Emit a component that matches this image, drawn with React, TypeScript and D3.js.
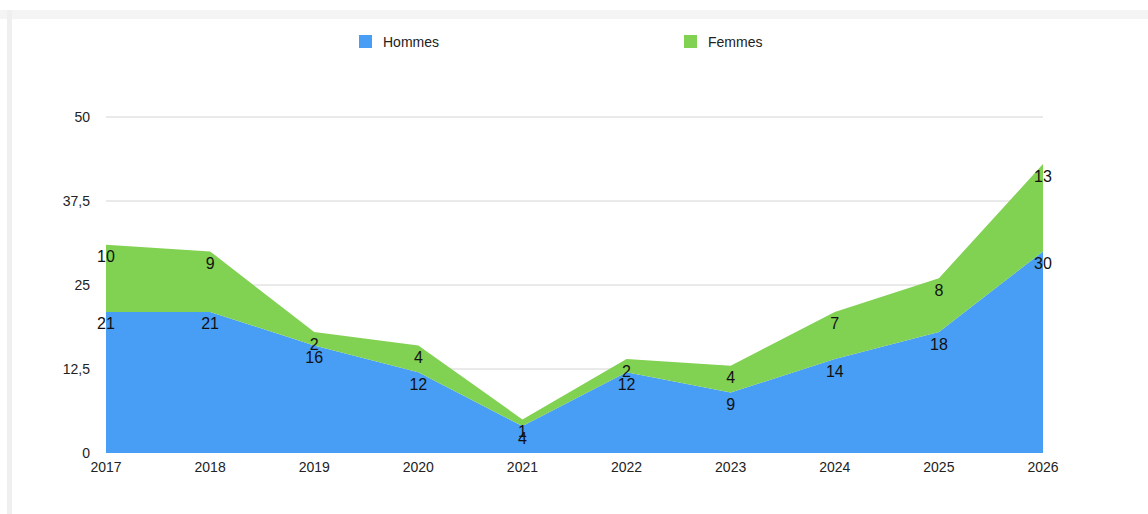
import React from "react";
import * as d3 from "d3";

const years = ["2017", "2018", "2019", "2020", "2021", "2022", "2023", "2024", "2025", "2026"];
const hommes = [21, 21, 16, 12, 4, 12, 9, 14, 18, 30];
const femmes = [10, 9, 2, 4, 1, 2, 4, 7, 8, 13];
const yTicks = [0, 12.5, 25, 37.5, 50];
const seriesNames = ["Hommes", "Femmes"];
const seriesColors = ["#489DF5", "#81D152"];

export default function App() {
  const W = 1148, H = 514;
  const x = d3.scalePoint<string>().domain(years).range([106, 1043]);
  const y = d3.scaleLinear().domain([0, 50]).range([453, 117]);
  const rows = years.map((yr, i) => ({ year: yr, Hommes: hommes[i], Femmes: femmes[i] }));
  const stack = d3.stack<any>().keys(seriesNames)(rows);
  const area = d3.area<any>()
    .x((d) => x(d.data.year)!)
    .y0((d) => y(d[0]))
    .y1((d) => y(d[1]));
  const fmt = (v: number) => String(v).replace(".", ",");
  const font = "'Liberation Sans', Arial, Helvetica, sans-serif";
  return (
    <svg width={W} height={H} style={{ position: "absolute", left: 0, top: 0 }} fontFamily={font}>
      <rect x={0} y={0} width={W} height={H} fill="#fff" />
      <rect x={0} y={10} width={W} height={9} fill="#f4f4f4" />
      <rect x={7} y={10} width={5} height={H - 10} fill="#efefef" />
      {yTicks.filter((t) => t > 0).map((t) => (
        <line key={t} x1={106} x2={1043} y1={y(t)} y2={y(t)} stroke="#d4d4d4" strokeWidth={1} />
      ))}
      {stack.map((s, i) => (
        <path key={s.key} d={area(s as any) || ""} fill={seriesColors[i]} />
      ))}
      {yTicks.map((t) => (
        <text key={t} x={90} y={y(t)} dy="0.35em" textAnchor="end" fontSize={14} fill="#222">
          {fmt(t)}
        </text>
      ))}
      {years.map((yr) => (
        <text key={yr} x={x(yr)!} y={467} dy="0.35em" textAnchor="middle" fontSize={14} fill="#222">
          {yr}
        </text>
      ))}
      {stack.map((s, i) =>
        s.map((d: any, j: number) => (
          <text key={s.key + j} x={x(years[j])!} y={y(d[1]) + 12} dy="0.35em" textAnchor="middle" fontSize={16} fill="#111">
            {i === 0 ? hommes[j] : femmes[j]}
          </text>
        ))
      )}
      {seriesNames.map((n, i) => {
        const lx = i === 0 ? 359 : 684;
        return (
          <g key={n}>
            <rect x={lx} y={35} width={13} height={13} fill={seriesColors[i]} />
            <text x={lx + 24} y={42} dy="0.35em" fontSize={14} fill="#222">{n}</text>
          </g>
        );
      })}
    </svg>
  );
}
